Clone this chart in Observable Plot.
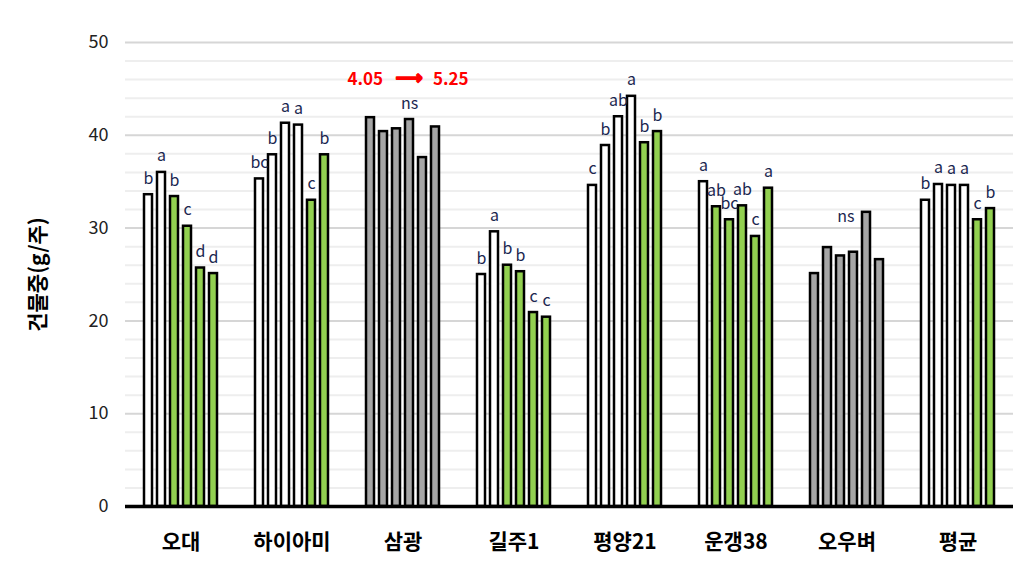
<!DOCTYPE html>
<html>
<head>
<meta charset="utf-8">
<script src="https://cdn.jsdelivr.net/npm/d3@7"></script>
<script src="https://cdn.jsdelivr.net/npm/@observablehq/plot@0.6"></script>
<style>
  html, body { margin: 0; padding: 0; background: #fff; }
  #chart svg { font-family: "Noto Sans CJK KR", "Noto Sans", sans-serif; display: block; }
  g[aria-label="y-axis label"] text { font-weight: bold; font-size: 21px; fill: #000; }
</style>
</head>
<body>
<div id="chart"></div>
<script>
// ---- data ----
const groups = ["오대", "하이아미", "삼광", "길주1", "평양21", "운갱38", "오우벼", "평균"];

const values = [
  [33.6, 36.0, 33.4, 30.2, 25.7, 25.1],   // 오대
  [35.3, 37.9, 41.3, 41.1, 33.0, 37.9],   // 하이아미
  [41.9, 40.4, 40.7, 41.7, 37.6, 40.9],   // 삼광
  [25.0, 29.6, 26.0, 25.3, 20.9, 20.4],   // 길주1
  [34.6, 38.9, 42.0, 44.2, 39.2, 40.4],   // 평양21
  [35.0, 32.3, 30.9, 32.4, 29.1, 34.3],   // 운갱38
  [25.1, 27.9, 27.0, 27.4, 31.7, 26.6],   // 오우벼
  [33.0, 34.7, 34.6, 34.6, 30.9, 32.1]    // 평균
];

// w = white, g = green, s = gray
const kinds = [
  ["w", "w", "g", "g", "g", "g"],
  ["w", "w", "w", "w", "g", "g"],
  ["s", "s", "s", "s", "s", "s"],
  ["w", "w", "g", "g", "g", "g"],
  ["w", "w", "w", "w", "g", "g"],
  ["w", "g", "g", "g", "g", "g"],
  ["s", "s", "s", "s", "s", "s"],
  ["w", "w", "w", "w", "g", "g"]
];

const letters = [
  ["b", "a", "b", "c", "d", "d"],
  ["bc", "b", "a", "a", "c", "b"],
  ["", "", "", "ns", "", ""],
  ["b", "a", "b", "b", "c", "c"],
  ["c", "b", "ab", "a", "b", "b"],
  ["a", "ab", "bc", "ab", "c", "a"],
  ["", "", "", "", "ns", ""],
  ["b", "a", "a", "a", "c", "b"]
];

const yTicks = [0, 10, 20, 30, 40, 50];
const minorTicks = [2, 4, 6, 8, 12, 14, 16, 18, 22, 24, 26, 28, 32, 34, 36, 38, 42, 44, 46, 48];
const note = { group: "삼광", from: "4.05", to: "5.25" };

const colorOf = { w: "#ffffff", g: "#92d050", s: "#a6a6a6" };

const data = groups.flatMap((g, i) => values[i].map((v, j) => ({
  group: g, idx: j, value: v, kind: kinds[i][j], letter: letters[i][j]
})));

const letterColor = "#1b2750";
const ext = -18; // extend rules across gaps between facets

const chart = Plot.plot({
  width: 1033,
  height: 579,
  marginLeft: 126,
  marginRight: 20,
  marginTop: 42,
  marginBottom: 73,
  fx: { domain: groups, paddingInner: 0.32, paddingOuter: 0.152, label: null, axis: null },
  x: { domain: [0, 1, 2, 3, 4, 5], paddingInner: 0.42, paddingOuter: 0, axis: null },
  y: { domain: [0, 50], axis: null },
  marks: [
    Plot.ruleY(minorTicks, { stroke: "#eeeeee", strokeWidth: 2, insetLeft: ext, insetRight: ext }),
    Plot.ruleY(yTicks.filter(t => t > 0), { stroke: "#d6d6d6", strokeWidth: 2, insetLeft: ext, insetRight: ext }),
    Plot.axisY(yTicks, {
      tickSize: 0, tickPadding: 35, fontSize: 18, fill: "#222",
      label: "건물중(g/주)", labelAnchor: "center", labelOffset: 113, labelArrow: "none"
    }),
    Plot.barY(data, {
      fx: "group", x: "idx", y: "value",
      fill: d => colorOf[d.kind], stroke: "#000", strokeWidth: 2.5
    }),
    Plot.ruleY([0], { stroke: "#000", strokeWidth: 3.5, insetLeft: ext, insetRight: ext }),
    Plot.text(data.filter(d => d.letter && d.group !== "오우벼"), {
      fx: "group", x: "idx", y: "value", text: "letter",
      lineAnchor: "bottom", dy: -11, fontSize: 16, fill: letterColor
    }),
    Plot.text(data.filter(d => d.letter && d.group === "오우벼"), {
      fx: "group", x: "idx", y: "value", text: "letter",
      lineAnchor: "bottom", textAnchor: "end", dx: -12, dy: 10, fontSize: 16, fill: letterColor
    }),
    Plot.text([note], {
      fx: "group", frameAnchor: "top", text: "from", textAnchor: "end",
      dx: -20, dy: 30, fontSize: 17, fontWeight: "bold", fill: "#ff0000"
    }),
    Plot.text([note], {
      fx: "group", frameAnchor: "top", text: () => "⟶", textAnchor: "middle",
      fontFamily: "DejaVu Sans",
      dx: 6, dy: 28, fontSize: 19, fontWeight: "bold", fill: "#ff0000",
      stroke: "#ff0000", strokeWidth: 1.6
    }),
    Plot.text([note], {
      fx: "group", frameAnchor: "top", text: "to", textAnchor: "start",
      dx: 30, dy: 30, fontSize: 17, fontWeight: "bold", fill: "#ff0000"
    }),
    Plot.axisFx({
      anchor: "bottom", tickSize: 0, tickPadding: 28, fontSize: 21,
      fontWeight: "bold", fill: "#000", label: null
    })
  ]
});

document.getElementById("chart").appendChild(chart);
</script>
</body>
</html>
